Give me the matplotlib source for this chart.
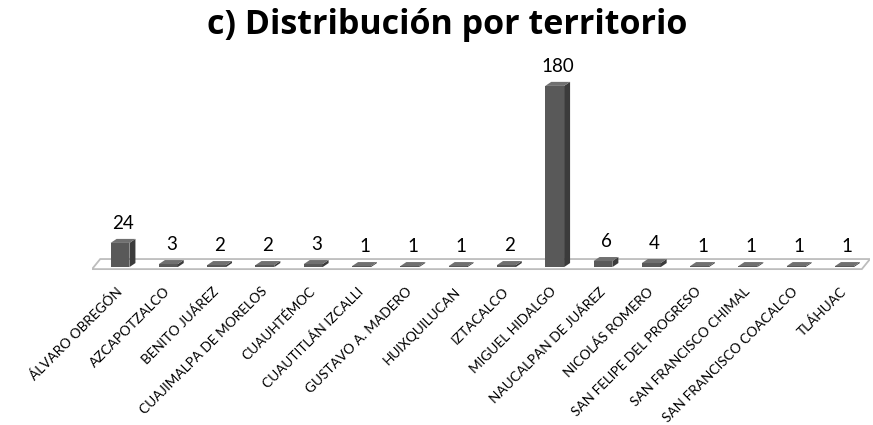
import matplotlib.pyplot as plt
from matplotlib.patches import Polygon

plt.rcParams['font.family'] = ['Lato', 'DejaVu Sans']

territorios = ['ÁLVARO OBREGÓN', 'AZCAPOTZALCO', 'BENITO JUÁREZ',
               'CUAJIMALPA DE MORELOS', 'CUAUHTÉMOC', 'CUAUTITLÁN IZCALLI',
               'GUSTAVO A. MADERO', 'HUIXQUILUCAN', 'IZTACALCO',
               'MIGUEL HIDALGO', 'NAUCALPAN DE JUÁREZ', 'NICOLÁS ROMERO',
               'SAN FELIPE DEL PROGRESO', 'SAN FRANCISCO CHIMAL',
               'SAN FRANCISCO COACALCO', 'TLÁHUAC']
casos = [24, 3, 2, 2, 3, 1, 1, 1, 2, 180, 6, 4, 1, 1, 1, 1]

front = '#595959'
side = '#3b3b3b'
top = '#707070'

fig = plt.figure(figsize=(8.73, 4.25), dpi=100)
ax = fig.add_axes([0.1054, 0.348, 0.8912, 0.511])
ax.set_xlim(-0.58, 15.53)
ax.set_ylim(-9.94, 205.8)

# pseudo 3D depth (data units)
w = 0.39
dx = 0.124
dy = 4.0

# floor
floor = Polygon([(-0.58, -2), (15.36, -2), (15.36 + 0.17, 8), (-0.58 + 0.17, 8)],
                closed=True, facecolor='white', edgecolor='#bdbdbd',
                linewidth=1.3, zorder=1)
ax.add_patch(floor)

xs = list(range(len(casos)))
ax.bar(xs, casos, width=w, color=front, zorder=3, linewidth=0)
for x, v in zip(xs, casos):
    r = x + w / 2
    l = x - w / 2
    ax.add_patch(Polygon([(r, 0), (r + dx, dy), (r + dx, v + dy), (r, v)],
                         closed=True, facecolor=side, edgecolor='none', zorder=3))
    ax.add_patch(Polygon([(l, v), (r, v), (r + dx, v + dy), (l + dx, v + dy)],
                         closed=True, facecolor=top, edgecolor='none', zorder=3))
    ax.annotate(str(v), (x + dx / 2, v + dy), xytext=(0, 5),
                textcoords='offset points', ha='center', va='bottom',
                fontsize=13.5, color='black')

ax.set_xticks(xs)
ax.set_xticklabels(territorios, rotation=45, ha='right', va='center',
                   rotation_mode='anchor', fontsize=9.8, color='black')
ax.tick_params(axis='x', length=0, pad=9)
ax.set_yticks([])
for s in ax.spines.values():
    s.set_visible(False)

fig.text(0.512, 0.941, 'c) Distribución por territorio', ha='center', va='center',
         fontsize=24.5, fontweight='bold', family=['Open Sans', 'DejaVu Sans'])

fig.savefig('out.png', dpi=100, facecolor='white')
